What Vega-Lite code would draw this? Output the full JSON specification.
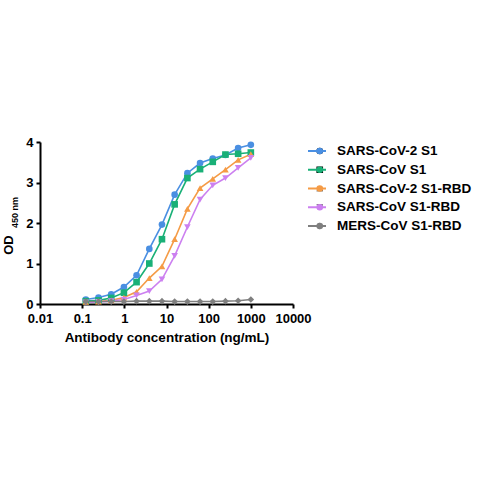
{
  "$schema": "https://vega.github.io/schema/vega-lite/v6.json",
  "description": "ELISA binding curves, OD 450 nm vs antibody concentration",
  "width": 253,
  "height": 162,
  "autosize": {"type": "none"},
  "padding": {"left": 40, "top": 142, "right": 187, "bottom": 176},
  "background": "white",
  "data": {
    "values": [
      {"series": "SARS-CoV-2 S1", "conc": 0.122, "od": 0.11},
      {"series": "SARS-CoV-2 S1", "conc": 0.244, "od": 0.16},
      {"series": "SARS-CoV-2 S1", "conc": 0.488, "od": 0.24},
      {"series": "SARS-CoV-2 S1", "conc": 0.977, "od": 0.42},
      {"series": "SARS-CoV-2 S1", "conc": 1.95, "od": 0.71},
      {"series": "SARS-CoV-2 S1", "conc": 3.91, "od": 1.36},
      {"series": "SARS-CoV-2 S1", "conc": 7.81, "od": 1.96},
      {"series": "SARS-CoV-2 S1", "conc": 15.6, "od": 2.7},
      {"series": "SARS-CoV-2 S1", "conc": 31.3, "od": 3.23},
      {"series": "SARS-CoV-2 S1", "conc": 62.5, "od": 3.48},
      {"series": "SARS-CoV-2 S1", "conc": 125, "od": 3.59},
      {"series": "SARS-CoV-2 S1", "conc": 250, "od": 3.68},
      {"series": "SARS-CoV-2 S1", "conc": 500, "od": 3.85},
      {"series": "SARS-CoV-2 S1", "conc": 1000, "od": 3.93},
      {"series": "SARS-CoV S1", "conc": 0.122, "od": 0.07},
      {"series": "SARS-CoV S1", "conc": 0.244, "od": 0.09},
      {"series": "SARS-CoV S1", "conc": 0.488, "od": 0.15},
      {"series": "SARS-CoV S1", "conc": 0.977, "od": 0.28},
      {"series": "SARS-CoV S1", "conc": 1.95, "od": 0.54},
      {"series": "SARS-CoV S1", "conc": 3.91, "od": 1.0},
      {"series": "SARS-CoV S1", "conc": 7.81, "od": 1.6},
      {"series": "SARS-CoV S1", "conc": 15.6, "od": 2.46},
      {"series": "SARS-CoV S1", "conc": 31.3, "od": 3.11},
      {"series": "SARS-CoV S1", "conc": 62.5, "od": 3.33},
      {"series": "SARS-CoV S1", "conc": 125, "od": 3.51},
      {"series": "SARS-CoV S1", "conc": 250, "od": 3.69},
      {"series": "SARS-CoV S1", "conc": 500, "od": 3.71},
      {"series": "SARS-CoV S1", "conc": 1000, "od": 3.74},
      {"series": "SARS-CoV-2 S1-RBD", "conc": 0.122, "od": 0.05},
      {"series": "SARS-CoV-2 S1-RBD", "conc": 0.244, "od": 0.06},
      {"series": "SARS-CoV-2 S1-RBD", "conc": 0.488, "od": 0.09},
      {"series": "SARS-CoV-2 S1-RBD", "conc": 0.977, "od": 0.16},
      {"series": "SARS-CoV-2 S1-RBD", "conc": 1.95, "od": 0.3},
      {"series": "SARS-CoV-2 S1-RBD", "conc": 3.91, "od": 0.64},
      {"series": "SARS-CoV-2 S1-RBD", "conc": 7.81, "od": 0.93},
      {"series": "SARS-CoV-2 S1-RBD", "conc": 15.6, "od": 1.6},
      {"series": "SARS-CoV-2 S1-RBD", "conc": 31.3, "od": 2.35},
      {"series": "SARS-CoV-2 S1-RBD", "conc": 62.5, "od": 2.86},
      {"series": "SARS-CoV-2 S1-RBD", "conc": 125, "od": 3.09},
      {"series": "SARS-CoV-2 S1-RBD", "conc": 250, "od": 3.32},
      {"series": "SARS-CoV-2 S1-RBD", "conc": 500, "od": 3.56},
      {"series": "SARS-CoV-2 S1-RBD", "conc": 1000, "od": 3.7},
      {"series": "SARS-CoV S1-RBD", "conc": 0.122, "od": 0.04},
      {"series": "SARS-CoV S1-RBD", "conc": 0.244, "od": 0.05},
      {"series": "SARS-CoV S1-RBD", "conc": 0.488, "od": 0.07},
      {"series": "SARS-CoV S1-RBD", "conc": 0.977, "od": 0.11},
      {"series": "SARS-CoV S1-RBD", "conc": 1.95, "od": 0.21},
      {"series": "SARS-CoV S1-RBD", "conc": 3.91, "od": 0.32},
      {"series": "SARS-CoV S1-RBD", "conc": 7.81, "od": 0.61},
      {"series": "SARS-CoV S1-RBD", "conc": 15.6, "od": 1.19},
      {"series": "SARS-CoV S1-RBD", "conc": 31.3, "od": 1.9},
      {"series": "SARS-CoV S1-RBD", "conc": 62.5, "od": 2.58},
      {"series": "SARS-CoV S1-RBD", "conc": 125, "od": 2.93},
      {"series": "SARS-CoV S1-RBD", "conc": 250, "od": 3.11},
      {"series": "SARS-CoV S1-RBD", "conc": 500, "od": 3.36},
      {"series": "SARS-CoV S1-RBD", "conc": 1000, "od": 3.61},
      {"series": "MERS-CoV S1-RBD", "conc": 0.122, "od": 0.06},
      {"series": "MERS-CoV S1-RBD", "conc": 0.244, "od": 0.06},
      {"series": "MERS-CoV S1-RBD", "conc": 0.488, "od": 0.06},
      {"series": "MERS-CoV S1-RBD", "conc": 0.977, "od": 0.06},
      {"series": "MERS-CoV S1-RBD", "conc": 1.95, "od": 0.07},
      {"series": "MERS-CoV S1-RBD", "conc": 3.91, "od": 0.07},
      {"series": "MERS-CoV S1-RBD", "conc": 7.81, "od": 0.07},
      {"series": "MERS-CoV S1-RBD", "conc": 15.6, "od": 0.06},
      {"series": "MERS-CoV S1-RBD", "conc": 31.3, "od": 0.06},
      {"series": "MERS-CoV S1-RBD", "conc": 62.5, "od": 0.06},
      {"series": "MERS-CoV S1-RBD", "conc": 125, "od": 0.06},
      {"series": "MERS-CoV S1-RBD", "conc": 250, "od": 0.07},
      {"series": "MERS-CoV S1-RBD", "conc": 500, "od": 0.08},
      {"series": "MERS-CoV S1-RBD", "conc": 1000, "od": 0.11}
    ]
  },
  "encoding": {
    "x": {
      "field": "conc",
      "type": "quantitative",
      "scale": {"type": "log", "domain": [0.01, 10000], "nice": false},
      "axis": {
        "title": "Antibody concentration (ng/mL)",
        "values": [0.01, 0.1, 1, 10, 100, 1000, 10000],
        "format": "~g",
        "labelFlush": false,
        "labelPadding": 4,
        "titlePadding": 5,
        "titleFontSize": 13.5
      }
    }
  },
  "layer": [
    {
      "mark": {"type": "line", "strokeWidth": 1.6},
      "encoding": {
        "y": {
          "field": "od",
          "type": "quantitative",
          "scale": {"domain": [0, 4], "nice": false},
          "axis": {
            "title": "OD",
            "values": [0, 1, 2, 3, 4],
            "labelFlush": false,
            "labelPadding": 3,
            "titleAngle": 270,
            "titleAlign": "center",
            "titleBaseline": "alphabetic",
            "titleX": -27.5,
            "titleY": 102.5
          }
        },
        "color": {
          "field": "series",
          "type": "nominal",
          "scale": {
            "domain": ["SARS-CoV-2 S1", "SARS-CoV S1", "SARS-CoV-2 S1-RBD", "SARS-CoV S1-RBD", "MERS-CoV S1-RBD"],
            "range": ["#4A8FE2", "#19B077", "#F59B45", "#CC80F0", "#7F7F7F"]
          },
          "legend": {
            "title": null,
            "orient": "none",
            "legendX": 267,
            "legendY": 2,
            "symbolType": "stroke",
            "symbolSize": 324,
            "symbolStrokeWidth": 2,
            "labelOffset": 10,
            "clipHeight": 14,
            "rowPadding": 4.75
          }
        }
      }
    },
    {
      "mark": {"type": "point", "filled": true, "opacity": 1, "size": 44},
      "encoding": {
        "y": {
          "field": "od",
          "type": "quantitative",
          "scale": {"domain": [0, 4], "nice": false},
          "axis": {
            "title": "450 nm",
            "orient": "left",
            "domain": false,
            "ticks": false,
            "labels": false,
            "titleFontSize": 9,
            "titleAngle": 270,
            "titleAlign": "center",
            "titleBaseline": "alphabetic",
            "titleX": -22.5,
            "titleY": 70
          }
        },
        "color": {
          "field": "series",
          "type": "nominal",
          "legend": {
            "title": null,
            "orient": "none",
            "legendX": 273,
            "legendY": 2,
            "symbolSize": 44,
            "labelExpr": "' '",
            "clipHeight": 14,
            "rowPadding": 4.75
          }
        },
        "shape": {
          "field": "series",
          "type": "nominal",
          "scale": {
            "domain": ["SARS-CoV-2 S1", "SARS-CoV S1", "SARS-CoV-2 S1-RBD", "SARS-CoV S1-RBD", "MERS-CoV S1-RBD"],
            "range": ["circle", "square", "triangle-up", "triangle-down", "diamond"]
          },
          "legend": {
            "title": null,
            "orient": "none",
            "legendX": 273,
            "legendY": 2,
            "symbolSize": 44,
            "labelExpr": "' '",
            "clipHeight": 14,
            "rowPadding": 4.75
          }
        }
      }
    }
  ],
  "resolve": {"scale": {"y": "independent"}, "legend": {"color": "independent"}},
  "config": {
    "view": {"stroke": null},
    "font": "Liberation Sans",
    "axis": {
      "grid": false,
      "domainColor": "black",
      "domainWidth": 2,
      "tickColor": "black",
      "tickWidth": 2,
      "tickSize": 4,
      "labelFont": "Liberation Sans",
      "labelFontSize": 13,
      "labelFontWeight": "bold",
      "labelColor": "black",
      "titleFont": "Liberation Sans",
      "titleFontSize": 13,
      "titleFontWeight": "bold",
      "titleColor": "black"
    },
    "legend": {
      "padding": 0,
      "labelFont": "Liberation Sans",
      "labelFontSize": 13.5,
      "labelFontWeight": "bold",
      "labelColor": "black",
      "labelLimit": 200
    }
  }
}
